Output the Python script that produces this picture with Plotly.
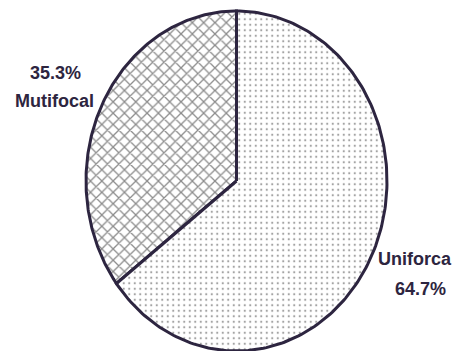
import numpy as np
import plotly.graph_objects as go

labels = ["Mutifocal", "Uniforca"]
values = [35.3, 64.7]
patterns = ["x", "."]

W, H = 458, 351
cx, cy, rx, ry = 236.5, 181, 150.5, 170
line_col = "#2d2540"

fig = go.Figure()
start = 0.0
total = sum(values)
for lab, val, pat in zip(labels, values, patterns):
    a0 = start / total * 2 * np.pi
    a1 = (start + val) / total * 2 * np.pi
    th = np.linspace(a0, a1, 200)
    xs = np.concatenate([[cx], cx - rx * np.sin(th), [cx]])
    ys = np.concatenate([[cy], cy - ry * np.cos(th), [cy]])
    if pat == "x":
        fp = dict(shape="x", size=8, solidity=0.3, fgcolor="#1a1a1a", bgcolor="white")
    else:
        fp = dict(shape=".", size=5.5, solidity=0.12, fgcolor="#444444", bgcolor="white")
    fig.add_trace(go.Scatter(x=xs, y=ys, mode="lines", fill="toself",
                             fillpattern=fp, fillcolor="white",
                             line=dict(color=line_col, width=3),
                             hoverinfo="skip", showlegend=False, name=lab))
    start += val

font = dict(family="Liberation Sans, Arial, sans-serif", size=18, color=line_col)
ann = [
    (55, 73, f"<b>{values[0]}%</b>"),
    (54, 101, f"<b>{labels[0]}</b>"),
    (415, 259, f"<b>{labels[1]}</b>"),
    (420, 289, f"<b>{values[1]}%</b>"),
]
for x, y, t in ann:
    fig.add_annotation(x=x, y=y, text=t, showarrow=False, font=font,
                       xref="x", yref="y", xanchor="center", yanchor="middle")

fig.update_layout(width=W, height=H, margin=dict(l=0, r=0, t=0, b=0),
                  plot_bgcolor="white", paper_bgcolor="white",
                  xaxis=dict(range=[0, W], visible=False, fixedrange=True),
                  yaxis=dict(range=[H, 0], visible=False, fixedrange=True))
fig.write_html("out.html")
